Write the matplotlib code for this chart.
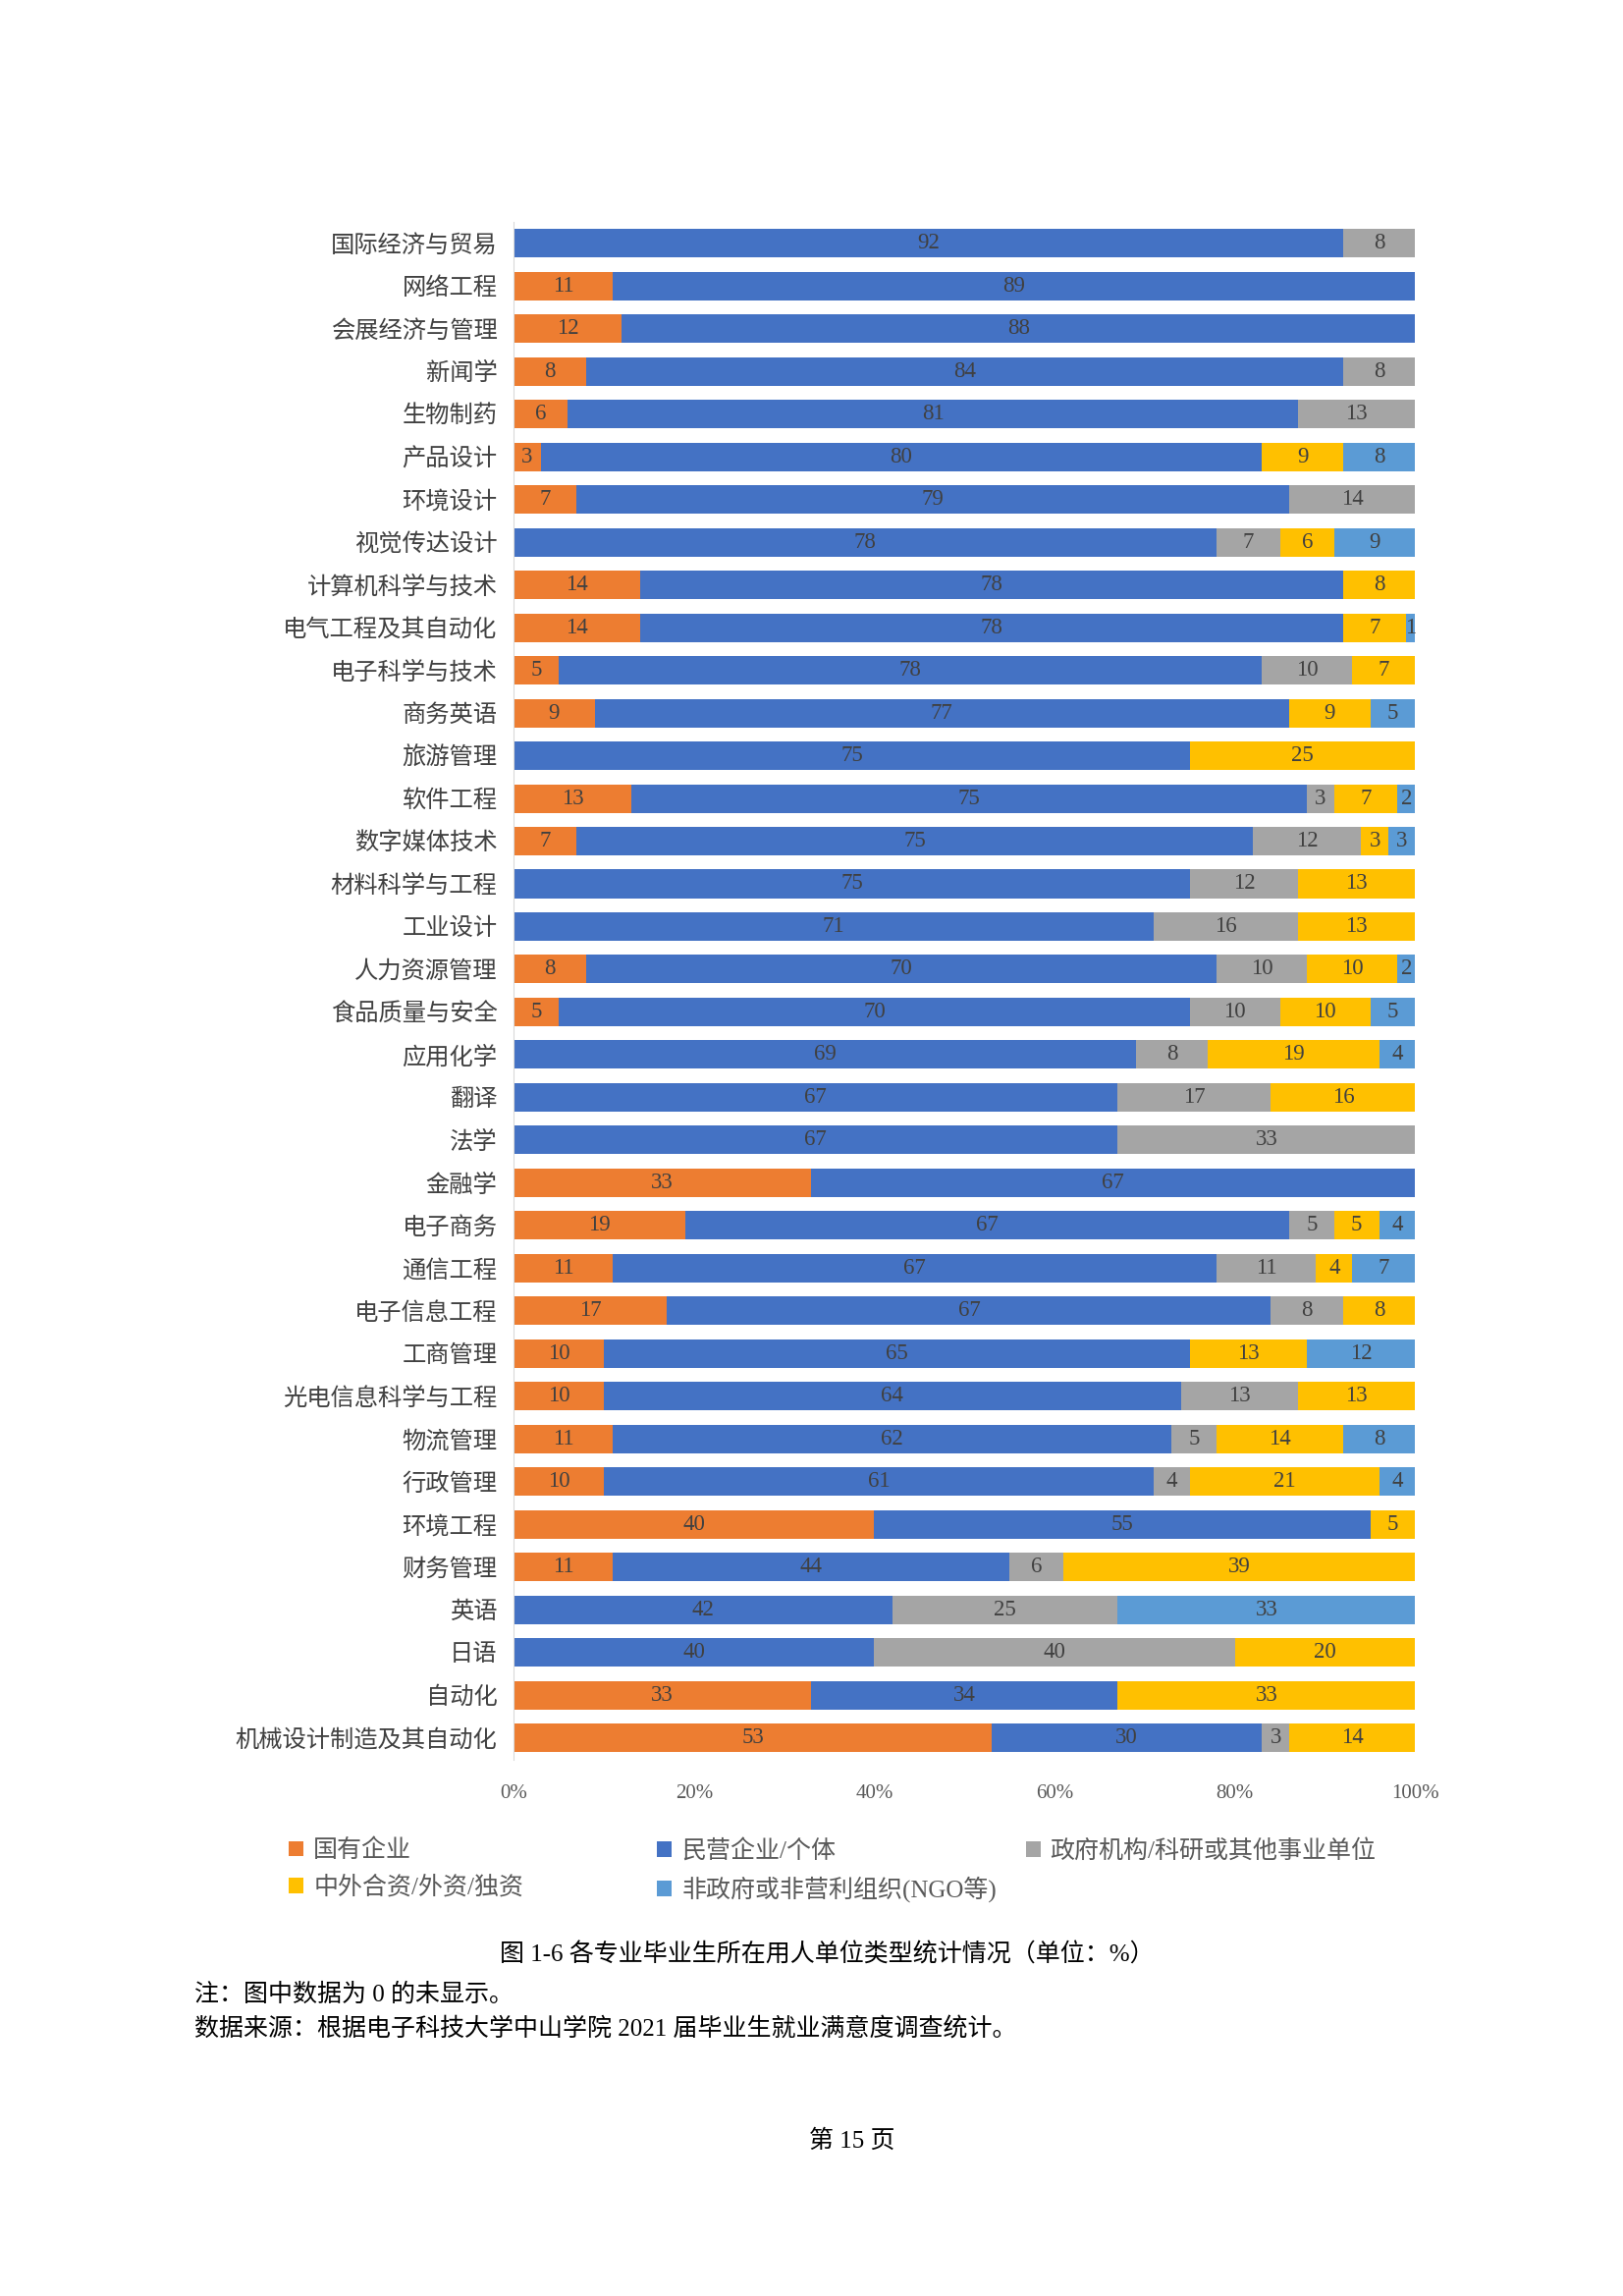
import matplotlib
matplotlib.use("Agg")
import matplotlib.pyplot as plt
import numpy as np

plt.rcParams['font.family'] = ['Liberation Serif', 'Noto Sans CJK SC', 'DejaVu Sans']

# majors, top to bottom
majors = ["国际经济与贸易", "网络工程", "会展经济与管理", "新闻学", "生物制药", "产品设计",
          "环境设计", "视觉传达设计", "计算机科学与技术", "电气工程及其自动化", "电子科学与技术",
          "商务英语", "旅游管理", "软件工程", "数字媒体技术", "材料科学与工程", "工业设计",
          "人力资源管理", "食品质量与安全", "应用化学", "翻译", "法学", "金融学", "电子商务",
          "通信工程", "电子信息工程", "工商管理", "光电信息科学与工程", "物流管理", "行政管理",
          "环境工程", "财务管理", "英语", "日语", "自动化", "机械设计制造及其自动化"]

state_owned = [0, 11, 12, 8, 6, 3, 7, 0, 14, 14, 5, 9, 0, 13, 7, 0, 0, 8, 5, 0, 0, 0, 33, 19,
               11, 17, 10, 10, 11, 10, 40, 11, 0, 0, 33, 53]
private = [92, 89, 88, 84, 81, 80, 79, 78, 78, 78, 78, 77, 75, 75, 75, 75, 71, 70, 70, 69, 67,
           67, 67, 67, 67, 67, 65, 64, 62, 61, 55, 44, 42, 40, 34, 30]
government = [8, 0, 0, 8, 13, 0, 14, 7, 0, 0, 10, 0, 0, 3, 12, 12, 16, 10, 10, 8, 17, 33, 0, 5,
              11, 8, 0, 13, 5, 4, 0, 6, 25, 40, 0, 3]
foreign = [0, 0, 0, 0, 0, 9, 0, 6, 8, 7, 7, 9, 25, 7, 3, 13, 13, 10, 10, 19, 16, 0, 0, 5,
           4, 8, 13, 13, 14, 21, 5, 39, 0, 20, 33, 14]
ngo = [0, 0, 0, 0, 0, 8, 0, 9, 0, 1, 0, 5, 0, 2, 3, 0, 0, 2, 5, 4, 0, 0, 0, 4,
       7, 0, 12, 0, 8, 4, 0, 0, 33, 0, 0, 0]

series_names = ["国有企业", "民营企业/个体", "政府机构/科研或其他事业单位",
                "中外合资/外资/独资", "非政府或非营利组织(NGO等)"]
series_colors = ["#ED7D31", "#4472C4", "#A5A5A5", "#FFC000", "#5B9BD5"]
x_ticks = [0, 20, 40, 60, 80, 100]

data = np.array([state_owned, private, government, foreign, ngo], dtype=float)
shares = data / data.sum(axis=0) * 100

fig = plt.figure(figsize=(16.53, 23.38), dpi=100)
ax = fig.add_axes([0.3165, 0.2337, 0.5555, 0.6697])

ypos = np.arange(len(majors))
left = np.zeros(len(majors))
containers = []
for vals, raw, name, col in zip(shares, data, series_names, series_colors):
    bars = ax.barh(ypos, vals, left=left, height=0.667, color=col, label=name)
    ax.bar_label(bars, labels=[f"{int(v)}" if v > 0 else "" for v in raw],
                 label_type='center', fontsize=16.5, color="#404040")
    containers.append(bars)
    left += vals

ax.set_xlim(0, 100)
ax.set_ylim(len(majors) - 0.5, -0.5)
ax.set_yticks(ypos)
ax.set_yticklabels(majors, fontsize=17.5, color="#404040")
ax.set_xticks(x_ticks)
ax.set_xticklabels([f"{t}%" for t in x_ticks], fontsize=15, color="#595959")
ax.tick_params(axis='both', length=0)
ax.tick_params(axis='y', pad=12)
ax.tick_params(axis='x', pad=18)
for s in ["top", "right", "bottom"]:
    ax.spines[s].set_visible(False)
ax.spines["left"].set_color("#D9D9D9")

# legend: three columns laid out like the original
columns = [[0, 3], [1, 4], [2]]
col_x = [0.178, 0.405, 0.632]
for idx, x in zip(columns, col_x):
    leg = fig.legend([containers[i] for i in idx], [series_names[i] for i in idx],
                     loc='upper left', bbox_to_anchor=(x, 0.199), frameon=False,
                     fontsize=18, handlelength=0.6, handleheight=0.6,
                     handletextpad=0.4, labelspacing=0.55, borderpad=0, borderaxespad=0)
    for t in leg.get_texts():
        t.set_color("#595959")

fig.text(0.5094, 0.1486, "图 1-6 各专业毕业生所在用人单位类型统计情况（单位：%）",
         ha='center', va='center', fontsize=18)
fig.text(0.12, 0.1314, "注：图中数据为 0 的未显示。", ha='left', va='center', fontsize=18)
fig.text(0.12, 0.1167, "数据来源：根据电子科技大学中山学院 2021 届毕业生就业满意度调查统计。",
         ha='left', va='center', fontsize=18)
fig.text(0.5248, 0.0676, "第 15 页", ha='center', va='center', fontsize=18)

fig.savefig("out.png", dpi=100)
